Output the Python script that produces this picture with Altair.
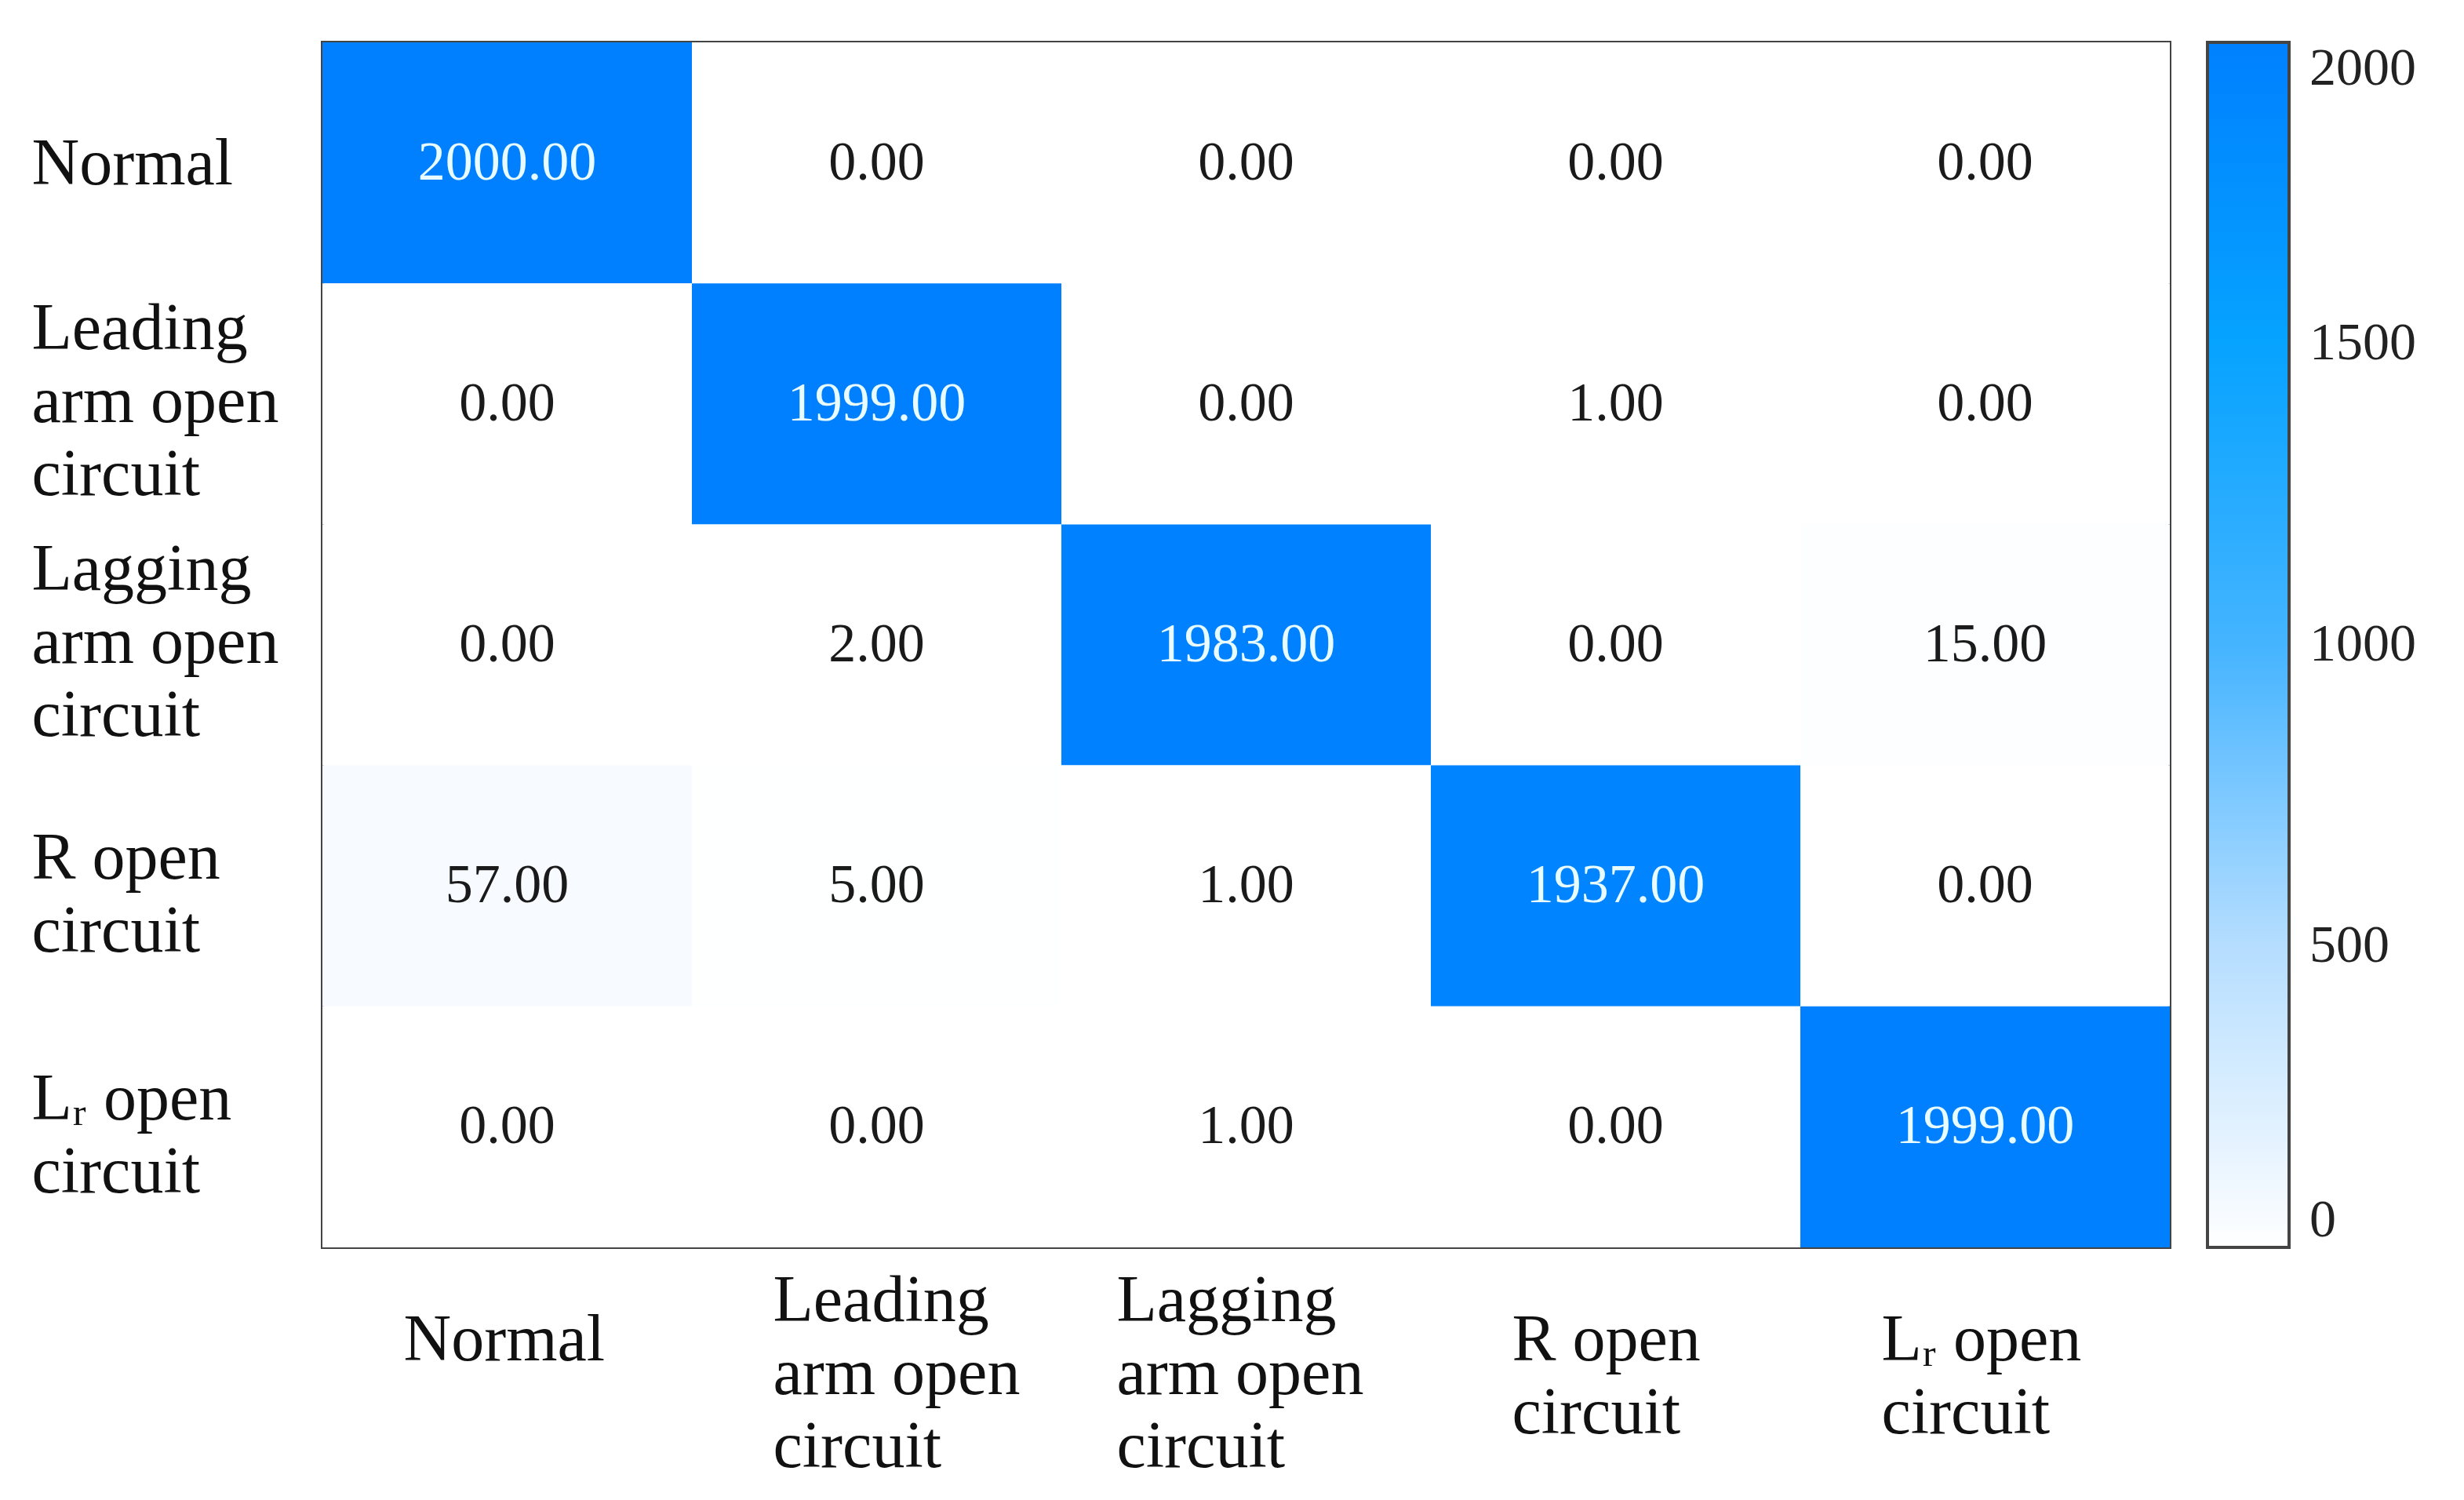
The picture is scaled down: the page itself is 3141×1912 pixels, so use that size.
import altair as alt
import pandas as pd

categories = [
    "Normal",
    "Leading\narm open\ncircuit",
    "Lagging\narm open\ncircuit",
    "R open\ncircuit",
    "Lᵣ open\ncircuit",
]
row_normal = [2000, 0, 0, 0, 0]
row_leading = [0, 1999, 0, 1, 0]
row_lagging = [0, 2, 1983, 0, 15]
row_r = [57, 5, 1, 1937, 0]
row_lr = [0, 0, 1, 0, 1999]
colorbar_ticks = [0, 500, 1000, 1500, 2000]
color_stops = ["#ffffff", "#b5ddff", "#45b4ff", "#06a3ff", "#0080ff"]

rows = [row_normal, row_leading, row_lagging, row_r, row_lr]
records = []
for i, r in enumerate(rows):
    for j, v in enumerate(r):
        records.append({"actual": categories[i], "predicted": categories[j], "count": v})
df = pd.DataFrame(records)

FONT = "Liberation Serif"
three_line = "indexof(datum.value, 'arm') >= 0"
two_line = "indexof(datum.value, 'open') >= 0"
lagging = "indexof(datum.value, 'Lagging') >= 0"

base = alt.Chart(df).encode(
    x=alt.X(
        "predicted:N",
        sort=categories,
        title=None,
        axis=alt.Axis(
            orient="bottom",
            labelAngle=0,
            labelAlign="left",
            labelOffset={"condition": {"test": lagging, "value": -165}, "value": -132},
            labelBaseline="middle",
            labelPadding={"condition": {"test": three_line, "value": 68}, "value": 118},
            labelFont=FONT,
            labelFontSize=84,
            labelLineHeight=93,
            labelColor="#111",
            labelLimit=0,
            labelExpr="split(datum.label, '\\n')",
            domain=False,
            ticks=False,
            tickSize=0,
        ),
    ),
    y=alt.Y(
        "actual:N",
        sort=categories,
        title=None,
        axis=alt.Axis(
            labelAlign="left",
            labelBaseline="middle",
            labelPadding=371,
            labelOffset={
                "condition": [
                    {"test": three_line, "value": -95},
                    {"test": two_line, "value": -34},
                ],
                "value": 2,
            },
            labelFont=FONT,
            labelFontSize=84,
            labelLineHeight=93,
            labelColor="#111",
            labelLimit=0,
            labelExpr="split(datum.label, '\\n')",
            domain=False,
            ticks=False,
            tickSize=0,
        ),
    ),
)

rect = base.mark_rect().encode(
    color=alt.Color(
        "count:Q",
        scale=alt.Scale(domain=colorbar_ticks, range=color_stops, interpolate="rgb"),
        legend=alt.Legend(
            title=None,
            values=colorbar_ticks,
            format="d",
            gradientLength=1536,
            gradientThickness=104,
            gradientStrokeColor="#444",
            gradientStrokeWidth=4,
            labelFont=FONT,
            labelFontSize=68,
            labelColor="#222",
            labelBaseline="middle",
            labelOffset=26,
            offset=48,
            padding=0,
        ),
    )
)

text = base.mark_text(font=FONT, fontSize=70).encode(
    text=alt.Text("count:Q", format=".2f"),
    color=alt.condition(alt.datum.count > 1000, alt.value("#e8fbff"), alt.value("#1a1a1a")),
)

chart = (
    alt.layer(rect, text)
    .properties(
        width=2355,
        height=1536,
        padding={"left": 32, "top": 46, "right": 0, "bottom": 0},
    )
    .configure_view(stroke="#444", strokeWidth=4)
)

chart.save("out.html", embed_options={"renderer": "svg", "actions": False})
